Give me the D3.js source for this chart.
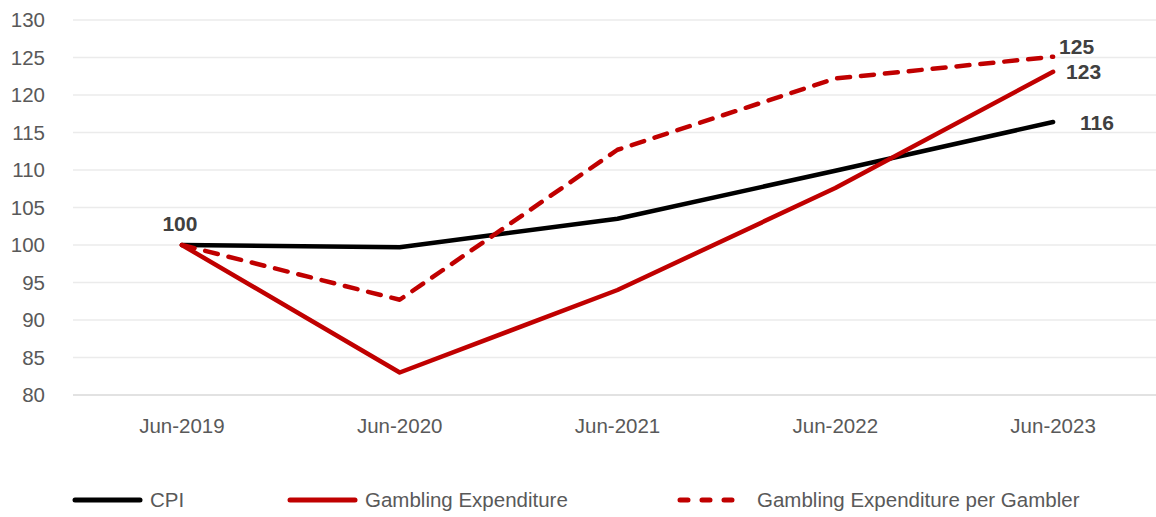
<!DOCTYPE html>
<html>
<head>
<meta charset="utf-8">
<script src="https://cdn.jsdelivr.net/npm/d3@7"></script>
<style>
  body { margin: 0; background: #fff; }
  svg text { font-family: "Liberation Sans", Arial, sans-serif; }
</style>
</head>
<body>
<div id="chart"></div>
<script>
// Chart data
var categories = ["Jun-2019", "Jun-2020", "Jun-2021", "Jun-2022", "Jun-2023"];
var cpi = [100, 99.7, 103.5, 109.9, 116.4];
var gamblingExp = [100, 83.0, 94.0, 107.6, 123.1];
var gamblingPerGambler = [100, 92.7, 112.7, 122.2, 125.1];
var yTicks = [80, 85, 90, 95, 100, 105, 110, 115, 120, 125, 130];

var svgWidth = 1156;
var svgHeight = 517;
var margin = { top: 20, right: -6, bottom: 122, left: 73 };
var chartWidth = svgWidth - margin.left - margin.right;
var chartHeight = svgHeight - margin.top - margin.bottom;

var svg = d3.select("#chart")
  .append("svg")
    .attr("width", svgWidth)
    .attr("height", svgHeight)
  .append("g")
    .attr("transform", `translate(${margin.left}, ${margin.top})`);

var xScale = d3.scalePoint()
  .domain(categories)
  .range([0, chartWidth])
  .padding(0.5);

var yScale = d3.scaleLinear()
  .domain([80, 130])
  .range([chartHeight, 0]);

// Gridlines
svg.selectAll(".grid")
  .data(yTicks)
  .enter()
  .append("line")
  .attr("x1", 0)
  .attr("x2", chartWidth)
  .attr("y1", d => yScale(d))
  .attr("y2", d => yScale(d))
  .attr("stroke", d => d === 80 ? "#d9d9d9" : "#ebebeb")
  .attr("stroke-width", 1.5);

// Y tick labels
svg.selectAll(".ylab")
  .data(yTicks)
  .enter()
  .append("text")
  .attr("x", -28)
  .attr("y", d => yScale(d))
  .attr("dy", "0.35em")
  .attr("text-anchor", "end")
  .attr("fill", "#595959")
  .style("font-size", "20.5px")
  .text(d => d);

// X labels
svg.selectAll(".xlab")
  .data(categories)
  .enter()
  .append("text")
  .attr("x", d => xScale(d))
  .attr("y", chartHeight + 38)
  .attr("text-anchor", "middle")
  .attr("fill", "#595959")
  .style("font-size", "20.5px")
  .text(d => d);

var series = [
  { name: "CPI", values: cpi, color: "#000000", dash: null },
  { name: "Gambling Expenditure", values: gamblingExp, color: "#c00000", dash: null },
  { name: "Gambling Expenditure per Gambler", values: gamblingPerGambler, color: "#c00000", dash: "13,11" }
];

var line = d3.line()
  .x((d, i) => xScale(categories[i]))
  .y(d => yScale(d));

svg.selectAll(".series")
  .data(series)
  .enter()
  .append("path")
  .attr("d", d => line(d.values))
  .attr("fill", "none")
  .attr("stroke", d => d.color)
  .attr("stroke-width", 4.5)
  .attr("stroke-linecap", "round")
  .attr("stroke-linejoin", "round")
  .attr("stroke-dasharray", d => d.dash);

// Data labels
var labelStyle = function(sel) {
  sel.attr("fill", "#404040")
    .style("font-size", "21px")
    .style("font-weight", "bold");
};
svg.append("text")
  .attr("x", xScale(categories[0]) - 2)
  .attr("y", yScale(cpi[0]) - 14)
  .attr("text-anchor", "middle")
  .call(labelStyle)
  .text(Math.round(cpi[0]));

var last = categories.length - 1;
[
  { v: gamblingPerGambler[last], dx: 6, dy: -3 },
  { v: gamblingExp[last], dx: 13, dy: 7 },
  { v: cpi[last], dx: 27, dy: 8 }
].forEach(function(l) {
  svg.append("text")
    .attr("x", xScale(categories[last]) + l.dx)
    .attr("y", yScale(l.v) + l.dy)
    .call(labelStyle)
    .text(Math.round(l.v));
});

// Legend
var legendX = [2, 217, 607];
var legend = svg.selectAll(".legend")
  .data(series)
  .enter()
  .append("g")
  .attr("transform", (d, i) => `translate(${legendX[i]}, ${chartHeight + 105})`);

legend.append("line")
  .attr("x1", 0)
  .attr("x2", 65)
  .attr("stroke", d => d.color)
  .attr("stroke-width", 5)
  .attr("stroke-linecap", "round")
  .attr("stroke-dasharray", d => d.dash ? "8,14" : null);

legend.append("text")
  .attr("x", d => d.dash ? 77 : 75)
  .attr("dy", "0.35em")
  .attr("fill", "#595959")
  .style("font-size", "20.5px")
  .text(d => d.name);
</script>
</body>
</html>
